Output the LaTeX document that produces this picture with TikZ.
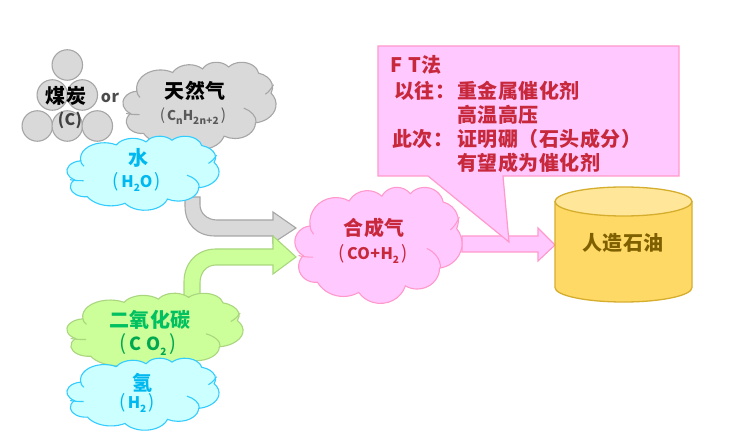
\documentclass[tikz,border=0pt]{standalone}
\usepackage{fontspec}
\setmainfont{Noto Sans CJK SC}[LetterSpace=2.5]
\definecolor{greyF}{HTML}{D9D9D9}
\definecolor{greyS}{HTML}{A6A6A6}
\definecolor{cyanF}{HTML}{CCFFFF}
\definecolor{cyanS}{HTML}{33CCFF}
\definecolor{cyanT}{HTML}{00B8F0}
\definecolor{greenF}{HTML}{CCFF99}
\definecolor{greenS}{HTML}{A9D67E}
\definecolor{greenT}{HTML}{00C060}
\definecolor{greenU}{HTML}{00A850}
\definecolor{pinkF}{HTML}{FFC8FF}
\definecolor{pinkS}{HTML}{FF99CC}
\definecolor{redT}{HTML}{C8283C}
\definecolor{oilF}{HTML}{FFD966}
\definecolor{oilT}{HTML}{FFE699}
\definecolor{oilS}{HTML}{D6AE2E}
\definecolor{oilX}{HTML}{7F6000}
\newcommand\mkarc[5]{%
  \pgfmathsetmacro\tmpS{atan2(#2*sin(#4),#3*cos(#4))}%
  \pgfmathsetmacro\tmpE{atan2(#2*sin(#4+#5),#3*cos(#4+#5))}%
  \pgfmathsetmacro\tmpD{mod(\tmpE-\tmpS+720,360)}%
  \expandafter\xdef\csname cS#1\endcsname{\tmpS}%
  \expandafter\xdef\csname cD#1\endcsname{\tmpD}%
  \expandafter\xdef\csname cX#1\endcsname{#2}%
  \expandafter\xdef\csname cY#1\endcsname{#3}}
\mkarc{a}{67.53}{91.90}{-190.4875}{123.7805}
\mkarc{b}{53.33}{72.67}{-144.1024}{89.9452}
\mkarc{c}{43.65}{59.45}{-145.8079}{99.7230}
\mkarc{d}{48.57}{65.95}{-130.9861}{117.2417}
\mkarc{e}{53.33}{72.73}{-78.7089}{109.0269}
\mkarc{f}{67.75}{92.20}{-46.2673}{130.2690}
\mkarc{g}{57.85}{78.67}{0.6250}{114.0333}
\mkarc{h}{67.52}{92.15}{22.4516}{115.1726}
\mkarc{i}{77.20}{105.43}{66.2426}{75.7110}
\mkarc{j}{43.60}{59.18}{-274.9421}{146.7356}
\mkarc{k}{43.45}{59.45}{-246.8285}{152.5303}
\newcommand\ca[1]{arc[start angle=\csname cS#1\endcsname,delta angle=\csname cD#1\endcsname,x radius=\csname cX#1\endcsname pt,y radius=\csname cY#1\endcsname pt]}
\newcommand\cloudshape[6]{%
  \begin{scope}[shift={(#1,#2)}]
  \pgfmathsetmacro\sx{(#3-#1)/432}\pgfmathsetmacro\sy{(#4-#2)/432}
  \begin{scope}[x=1pt,y=1pt,xscale=\sx,yscale=-\sy]
  \path[draw=#6,fill=#5,cloudline] (39,143.7) \ca{a} \ca{b} \ca{c} \ca{d} \ca{e} \ca{f} \ca{g} \ca{h} \ca{i} \ca{j} \ca{k} -- cycle;
  \draw[#6,cloudline] (47,261) .. controls (30,262) and (15,258) .. (9,255);
  \draw[#6,cloudline] (341,229) .. controls (360,240) and (378,270) .. (376,302);
  \draw[#6,cloudline] (425,112) .. controls (420,130) and (412,148) .. (402,160);
  \draw[#6,cloudline] (39,143.7) .. controls (39,155) and (42,166) .. (48,176);
  \end{scope}\end{scope}}
\newcommand\sbs[1]{\raisebox{-.28em}{\fontsize{10}{10}\selectfont #1}}
\newcommand\lpr{{\mdseries\fontsize{1.15em}{1.15em}\selectfont (}\kern.15em}
\newcommand\rpr{\kern.15em{\mdseries\fontsize{1.15em}{1.15em}\selectfont )}}
\tikzset{
  cloudline/.style={line width=1.1pt},
  ball/.style={circle,draw=greyS,fill=greyF,line width=1.1pt,minimum size=30.5pt,inner sep=0pt},
  lbl/.style={inner sep=0pt,font=\fontsize{20}{20}\selectfont\bfseries},
  sublbl/.style={inner sep=0pt,font=\fontsize{16}{16}\selectfont\bfseries},
  ft/.style={lbl,anchor=west,text=redT},
  blockarrow/.style={line width=1.1pt,line join=miter}
}
\begin{document}
\begin{tikzpicture}[x=1pt,y=-1pt]
\useasboundingbox (0,0) rectangle (753,438);
\fill[white] (0,0) rectangle (753,438);
% coal balls
\node[ball] (c1) at (67.3,65) {};
\node[ball] (c2) at (52.3,95) {};
\node[ball] (c3) at (82.3,95) {};
\node[ball] (c4) at (37.3,126) {};
\node[ball] (c5) at (67.3,126) {};
\node[ball] (c6) at (97.3,126) {};
\node[lbl,text=black] (coal) at (66,96) {煤炭};
\node[sublbl,text=black!75] (coalf) at (70,120) {(C)};
\node[inner sep=0pt,font=\fontsize{16}{16}\selectfont\bfseries,text=black!70] (or) at (110,98) {or};
% gas
\cloudshape{123}{62}{276}{149}{greyF}{greyS}
\node[lbl,text=black] (gas) at (195,91) {天然气};
\node[inner sep=0pt,text=black!65,font=\fontsize{13.5}{14}\selectfont\bfseries] (gasf) at (193,116) {\lpr C\sbs{n}H\sbs{2n+2}\rpr};
% grey arrow
\draw[blockarrow,draw=greyS,fill=greyF] (185,197) -- (185,206) .. controls (185,224) and (197,236) .. (215,236) -- (273,236) -- (273,243) -- (296,228) -- (273,212) -- (273,220) -- (217,220) .. controls (207,220) and (200,213) .. (200,205) -- (200,197) -- cycle;
% water
\cloudshape{67}{136}{219}{210}{cyanF}{cyanS}
\node[lbl,text=cyanT] (water) at (138,158) {水};
\node[sublbl,text=cyanT] (waterf) at (137,182) {\lpr H\sbs{2}O\rpr};
% green arrow
\draw[blockarrow,draw=greenS,fill=greenF] (184,297) -- (184,282) .. controls (184,263) and (197,249) .. (216,249) -- (273,249) -- (273,236) -- (296,257) -- (273,274) -- (273,265) -- (216,265) .. controls (206,265) and (200,273) .. (200,283) -- (200,297) -- cycle;
% co2
\cloudshape{67}{293}{243}{370}{greenF}{greenS}
\node[lbl,text=greenT] (co) at (150,320) {二氧化碳};
\node[sublbl,text=greenU,font=\fontsize{18}{18}\selectfont\bfseries] (cof) at (148,345) {\lpr C\kern.25em O\sbs{2}\rpr};
% h2
\cloudshape{67}{358}{219}{430}{cyanF}{cyanS}
\node[lbl,text=cyanT] (hyd) at (142,383) {氢};
\node[sublbl,text=cyanT] (hydf) at (137,403) {\lpr H\sbs{2}\rpr};
% pink arrow
\draw[blockarrow,draw=pinkS,fill=pinkF] (462,236) -- (538,236) -- (538,228) -- (555,245) -- (538,261) -- (538,252) -- (462,252) -- cycle;
% syngas
\cloudshape{295}{187}{462}{303}{pinkF}{pinkS}
\node[lbl,text=redT] (syn) at (374,228) {合成气};
\node[sublbl,text=redT] (synf) at (373,254) {\lpr CO+H\sbs{2}\rpr};
% callout
\draw[line width=1.2pt,draw=pinkS,fill=pinkF,line join=miter] (378,46) -- (679,46) -- (679,176) -- (503,176) -- (509,242) -- (428,176) -- (378,176) -- cycle;
\node[ft] (t0) at (390,65) {F\kern.3em T法};
\node[ft] (t1) at (394,91) {以往：};
\node[ft] (t2) at (457,91) {重金属催化剂};
\node[ft] (t3) at (457,115) {高温高压};
\node[ft] (t4) at (392,139) {此次：};
\node[ft] (t5) at (457,139) {证明硼（石头成分）};
\node[ft] (t6) at (457,163) {有望成为催化剂};
% cylinder
\draw[line width=1.3pt,draw=oilS,fill=oilF] (555,201.5) -- (555,287.5) arc[start angle=180,end angle=360,x radius=68.5pt,y radius=14.5pt] -- (692,201.5) -- cycle;
\draw[line width=1.3pt,draw=oilS,fill=oilT] (623.5,201.5) ellipse[x radius=68.5pt,y radius=14.5pt];
\node[lbl,text=oilX] (oil) at (623,243) {人造石油};
\end{tikzpicture}
\end{document}
